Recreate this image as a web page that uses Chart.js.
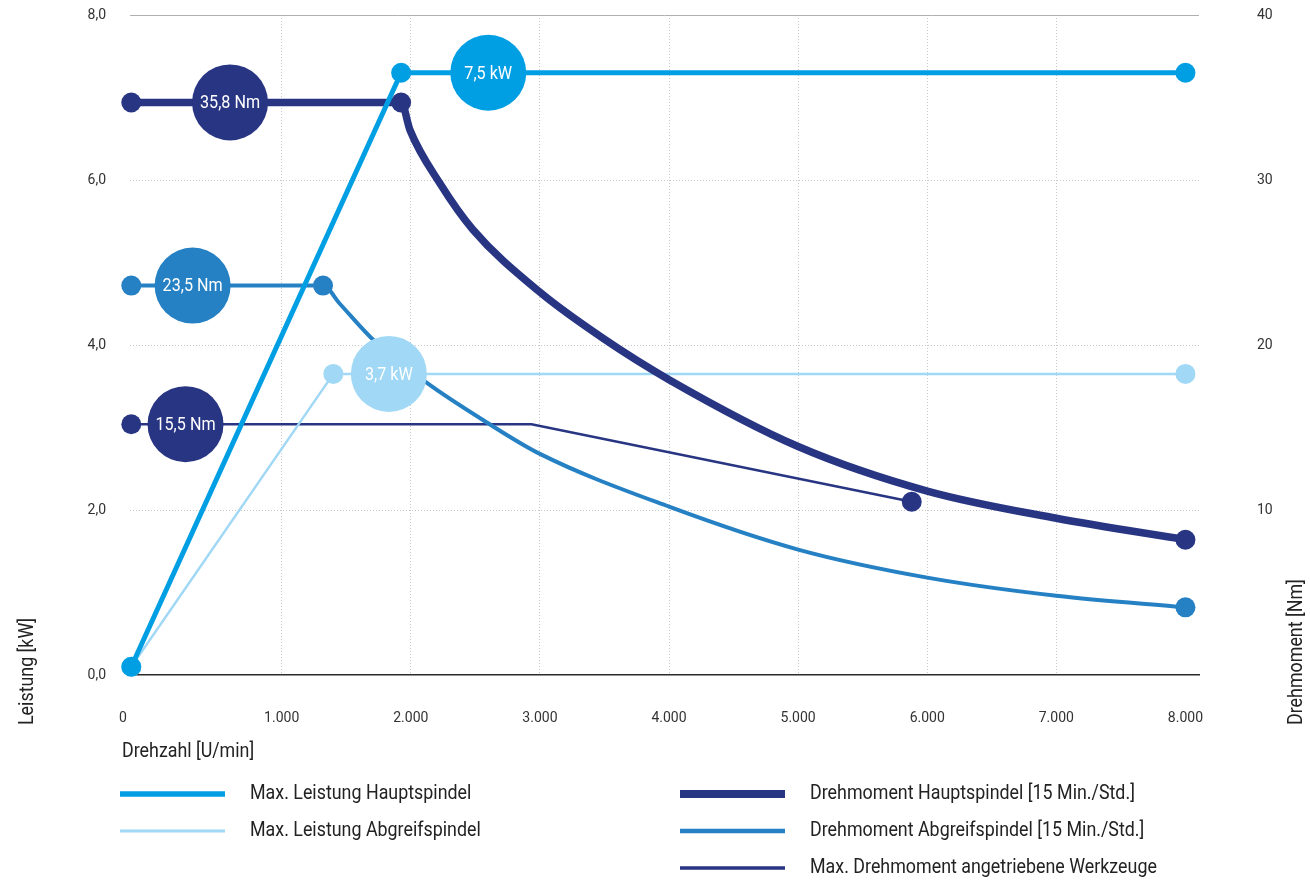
<!DOCTYPE html>
<html lang="de">
<head>
<meta charset="utf-8">
<title>Leistung / Drehmoment</title>
<script src="https://cdn.jsdelivr.net/npm/chart.js@4/dist/chart.umd.min.js"></script>
<style>
  html, body { margin: 0; padding: 0; background: #fff; }
</style>
</head>
<body>
<canvas id="chart" width="1310" height="883"></canvas>
<script>
const FONT = "Roboto, 'Liberation Sans', sans-serif";
const NARROW = 0.85; // horizontal squeeze to get the condensed look of the original

// x axis ticks (the first tick carries the "0" under the start points)
const xTicks = [-230, 1000, 2000, 3000, 4000, 5000, 6000, 7000, 8000];
const xTickLabels = ['0', '1.000', '2.000', '3.000', '4.000', '5.000', '6.000', '7.000', '8.000'];

// Max. Leistung Hauptspindel [kW]
const rpmPowerMain = [-165, 1925, 8000];
const powerMain = [0.1, 7.3, 7.3];

// Max. Leistung Abgreifspindel [kW]
const rpmPowerSub = [-165, 1400, 8000];
const powerSub = [0.1, 3.65, 3.65];

// Drehmoment Hauptspindel [Nm]
const rpmTorqueMain = [-165, 1925, 1995, 2225, 2480, 3000, 3490, 4000, 5000, 6000, 7000, 8000];
const torqueMain = [34.7, 34.7, 33.0, 29.8, 27.0, 23.2, 20.4, 17.9, 13.85, 11.15, 9.5, 8.2];

// Drehmoment Abgreifspindel [Nm]
const rpmTorqueSub = [-165, 1320, 1450, 1710, 2125, 2590, 3000, 4000, 5000, 6000, 7000, 8000];
const torqueSub = [23.6, 23.6, 22.5, 20.3, 17.7, 15.3, 13.4, 10.2, 7.6, 5.9, 4.8, 4.1];

// Max. Drehmoment angetriebene Werkzeuge [Nm]
const rpmTools = [-165, 2935, 5880];
const torqueTools = [15.2, 15.2, 10.5];

// value bubbles
const powerBubbleRpm = [2600, 1830];
const powerBubbleKw = [7.3, 3.65];
const powerBubbleLabels = ['7,5 kW', '3,7 kW'];
const torqueBubbleRpm = [600, 310, 255];
const torqueBubbleNm = [34.7, 23.6, 15.2];
const torqueBubbleLabels = ['35,8 Nm', '23,5 Nm', '15,5 Nm'];

const CYAN = '#009fe3', LIGHT = '#a0d8f6', MID = '#2581c4', NAVY = '#283583';
const NONE = 'rgba(0,0,0,0)';

const pts = (xs, ys) => xs.map((x, i) => ({x: x, y: ys[i]}));

// radius 10 dots only at the given indices (negative = from the end)
function dots(...idx) {
  return ctx => {
    const last = ctx.dataset.data.length - 1;
    return idx.some(i => (i < 0 ? last + 1 + i : i) === ctx.dataIndex) ? 10 : 0;
  };
}

function lineSet(label, xs, ys, color, width, axis, marks, curved) {
  return {
    label: label,
    data: pts(xs, ys),
    yAxisID: axis,
    showLine: true,
    clip: false,
    borderColor: color,
    backgroundColor: color,
    borderWidth: width,
    pointRadius: marks,
    pointHoverRadius: marks,
    pointBorderWidth: 0,
    cubicInterpolationMode: curved ? 'monotone' : 'default',
    tension: 0
  };
}

const datasets = [
  {
    label: 'bubblesPower', bubbleLabels: powerBubbleLabels,
    data: pts(powerBubbleRpm, powerBubbleKw), yAxisID: 'y', clip: false,
    pointRadius: 38, pointHoverRadius: 38, pointBorderWidth: 0,
    backgroundColor: [CYAN, LIGHT], pointBackgroundColor: [CYAN, LIGHT]
  },
  {
    label: 'bubblesTorque', bubbleLabels: torqueBubbleLabels,
    data: pts(torqueBubbleRpm, torqueBubbleNm), yAxisID: 'y2', clip: false,
    pointRadius: 38, pointHoverRadius: 38, pointBorderWidth: 0,
    backgroundColor: [NAVY, MID, NAVY], pointBackgroundColor: [NAVY, MID, NAVY]
  },
  lineSet('Max. Leistung Hauptspindel', rpmPowerMain, powerMain, CYAN, 5, 'y', dots(0, 1, -1), false),
  lineSet('Drehmoment Hauptspindel [15 Min./Std.]', rpmTorqueMain, torqueMain, NAVY, 7.5, 'y2', dots(0, 1, -1), true),
  lineSet('Drehmoment Abgreifspindel [15 Min./Std.]', rpmTorqueSub, torqueSub, MID, 4, 'y2', dots(0, 1, -1), true),
  lineSet('Max. Leistung Abgreifspindel', rpmPowerSub, powerSub, LIGHT, 2.5, 'y', dots(0, 1, -1), false),
  lineSet('Max. Drehmoment angetriebene Werkzeuge', rpmTools, torqueTools, NAVY, 2.5, 'y2', dots(0, -1), false)
];

// legend slots: dataset index, line start x, row y, sample width
const legendSlots = [
  {ds: 2, x: 120, y: 794, w: 5.5},
  {ds: 5, x: 120, y: 831, w: 3},
  {ds: 3, x: 680, y: 794, w: 8},
  {ds: 4, x: 680, y: 831, w: 4.5},
  {ds: 6, x: 680, y: 868, w: 3.5}
];

// text squeezed horizontally around its anchor
function narrowText(ctx, text, x, y) {
  ctx.save();
  ctx.translate(x, y);
  ctx.scale(NARROW, 1);
  ctx.fillText(text, 0, 0);
  ctx.restore();
}

const bubbleText = {
  id: 'bubbleText',
  afterDatasetsDraw(chart) {
    const ctx = chart.ctx;
    ctx.save();
    ctx.font = '19px ' + FONT;
    ctx.fillStyle = '#fff';
    ctx.textAlign = 'center';
    ctx.textBaseline = 'middle';
    chart.data.datasets.forEach((ds, i) => {
      if (!ds.bubbleLabels) return;
      chart.getDatasetMeta(i).data.forEach((p, j) => {
        narrowText(ctx, ds.bubbleLabels[j], p.x, p.y + 1);
      });
    });
    ctx.restore();
  }
};

const titlesAndLegend = {
  id: 'titlesAndLegend',
  afterDraw(chart) {
    const ctx = chart.ctx;
    ctx.save();
    ctx.font = '21px ' + FONT;
    ctx.fillStyle = '#222';
    ctx.textBaseline = 'middle';
    ctx.textAlign = 'left';

    // axis titles
    narrowText(ctx, 'Drehzahl [U/min]', 122, 752);
    ctx.save();
    ctx.translate(28, 725);
    ctx.rotate(-Math.PI / 2);
    narrowText(ctx, 'Leistung [kW]', 0, 0);
    ctx.restore();
    ctx.save();
    ctx.translate(1297, 725);
    ctx.rotate(-Math.PI / 2);
    narrowText(ctx, 'Drehmoment [Nm]', 0, 0);
    ctx.restore();

    // legend
    legendSlots.forEach(s => {
      const ds = chart.data.datasets[s.ds];
      ctx.strokeStyle = ds.borderColor;
      ctx.lineWidth = s.w;
      ctx.beginPath();
      ctx.moveTo(s.x, s.y);
      ctx.lineTo(s.x + 105, s.y);
      ctx.stroke();
      narrowText(ctx, ds.label, s.x + 130, s.y);
    });
    ctx.restore();
  }
};

const tickFont = {family: FONT, size: 14};

new Chart(document.getElementById('chart'), {
  type: 'scatter',
  data: {datasets: datasets},
  plugins: [bubbleText, titlesAndLegend],
  options: {
    responsive: false,
    animation: false,
    layout: {autoPadding: false, padding: {top: 15, left: 0, right: 0, bottom: 0}},
    plugins: {
      legend: {display: false},
      tooltip: {enabled: false}
    },
    scales: {
      x: {
        type: 'linear',
        min: -175,
        max: 8105,
        afterBuildTicks: s => { s.ticks = xTicks.map(v => ({value: v})); },
        afterFit: s => { s.height = 208; },
        ticks: {
          autoSkip: false,
          maxRotation: 0,
          padding: 35,
          color: '#333',
          font: tickFont,
          callback: (v, i) => xTickLabels[i]
        },
        grid: {
          drawTicks: false,
          color: c => (c.tick && c.tick.value >= 1000 && c.tick.value <= 7000) ? '#c8c8c8' : NONE
        },
        border: {display: true, color: '#2b2b2b', width: 1.5, dash: [1, 2]}
      },
      y: {
        position: 'left',
        min: 0,
        max: 8,
        afterFit: s => { s.width = 130; },
        ticks: {
          stepSize: 2,
          padding: 0,
          color: '#333',
          font: tickFont,
          callback: v => v.toFixed(1).replace('.', ',')
        },
        grid: {
          drawTicks: true,
          tickLength: 24,
          tickColor: NONE,
          color: c => {
            if (!c.tick || c.tick.value === 0) return NONE;
            return c.tick.value === 8 ? '#b0b0b0' : '#c8c8c8';
          }
        },
        border: {display: false, dash: c => (c.tick && c.tick.value === 8) ? [] : [1, 2]}
      },
      y2: {
        position: 'right',
        min: 0,
        max: 40,
        afterFit: s => { s.width = 111; },
        ticks: {
          stepSize: 10,
          padding: 0,
          color: '#333',
          font: tickFont,
          callback: v => v === 0 ? '' : String(v)
        },
        grid: {drawOnChartArea: false, drawTicks: true, tickLength: 58, tickColor: NONE},
        border: {display: false}
      }
    }
  }
});
</script>
</body>
</html>
